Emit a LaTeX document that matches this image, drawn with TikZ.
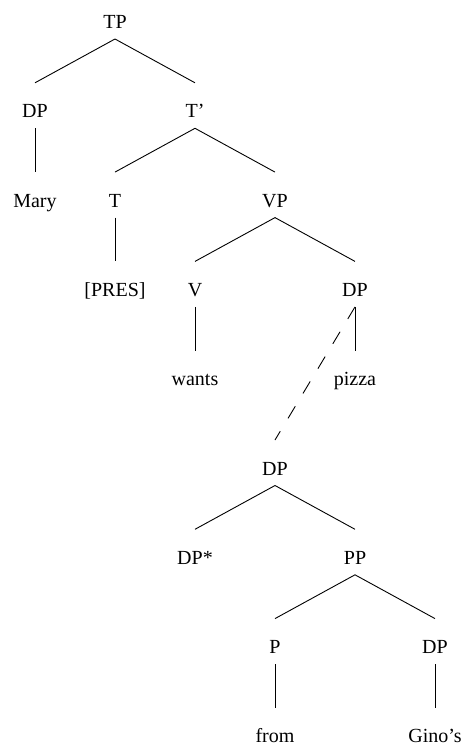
\documentclass[tikz,border=0pt]{standalone}
\usepackage{fontspec}
\setmainfont{Liberation Serif}
\usepackage{tikz}
\usetikzlibrary{positioning}

\begin{document}
\begin{tikzpicture}[
    x=1pt, y=1pt,
    cat/.style={anchor=base, inner sep=2pt, outer sep=0pt, text height=33pt, text depth=8.5pt, font=\fontsize{20}{24}\selectfont},
    branch/.style={line width=0.9pt, black},
    moved/.style={branch, dash pattern=on 14pt off 15pt}
]
    \useasboundingbox (0,0) rectangle (462,-744);

    % Clause level
    \node[cat] (tp) at (115,-28.5) {TP};
    \node[cat] (dpSubj) at (35,-117.8) {DP};
    \node[cat] (tbar) at (195,-117.8) {T'};
    \node[cat] (mary) at (35,-207.1) {Mary};
    \node[cat] (t) at (115,-207.1) {T};
    \node[cat] (vp) at (275,-207.1) {VP};

    % Verb phrase
    \node[cat] (pres) at (115,-296.4) {[PRES]};
    \node[cat] (v) at (195,-296.4) {V};
    \node[cat] (dpObj) at (355,-296.4) {DP};
    \node[cat] (wants) at (195,-385.7) {wants};
    \node[cat] (pizza) at (355,-385.7) {pizza};

    % Adjoined DP
    \node[cat] (dpLow) at (275,-475) {DP};
    \node[cat] (dpStar) at (195,-564.3) {DP*};
    \node[cat] (pp) at (355,-564.3) {PP};
    \node[cat] (p) at (275,-653.6) {P};
    \node[cat] (dpGino) at (435,-653.6) {DP};
    \node[cat] (from) at (275,-742.9) {from};
    \node[cat] (ginos) at (435,-742.9) {Gino's};

    % Branches
    \draw[branch] (tp.south) -- (dpSubj.north);
    \draw[branch] (tp.south) -- (tbar.north);
    \draw[branch] (dpSubj.south) -- (mary.north);
    \draw[branch] (tbar.south) -- (t.north);
    \draw[branch] (tbar.south) -- (vp.north);
    \draw[branch] (t.south) -- (pres.north);
    \draw[branch] (vp.south) -- (v.north);
    \draw[branch] (vp.south) -- (dpObj.north);
    \draw[branch] (v.south) -- (wants.north);
    \draw[branch] (dpObj.south) -- (pizza.north);
    \draw[branch] (dpLow.south) -- (dpStar.north);
    \draw[branch] (dpLow.south) -- (pp.north);
    \draw[branch] (pp.south) -- (p.north);
    \draw[branch] (pp.south) -- (dpGino.north);
    \draw[branch] (p.south) -- (from.north);
    \draw[branch] (dpGino.south) -- (ginos.north);

    % Link to the adjoined DP
    \draw[moved] (dpObj.south) -- (dpLow.north);

\end{tikzpicture}
\end{document}
